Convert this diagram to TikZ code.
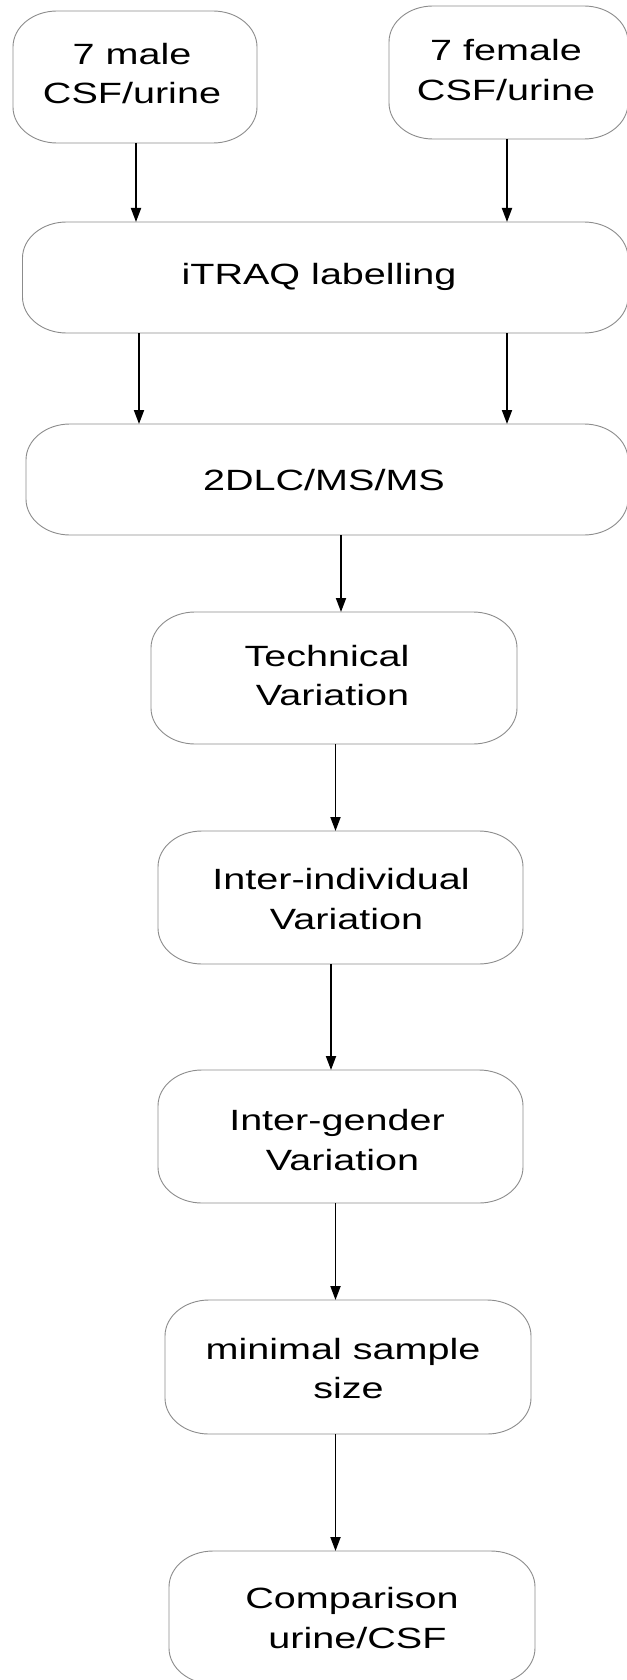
\documentclass[tikz,border=0pt]{standalone}
\usepackage{fontspec}
\setmainfont[FakeStretch=1.35]{Liberation Sans}
\usetikzlibrary{arrows.meta}
\newcommand{\ovalbox}[5]{%
  \node[boxshape, minimum width=#4pt, minimum height=#5pt] (#1) at (#2,#3) {};
  \draw[boxline] ([xshift=44pt]#1.north west) -- ([xshift=-44pt]#1.north east)
    .. controls ([xshift=-19.7pt]#1.north east) and ([yshift=-16.1pt]#1.north east) .. ([yshift=-36pt]#1.north east)
    -- ([yshift=36pt]#1.south east)
    .. controls ([yshift=16.1pt]#1.south east) and ([xshift=-19.7pt]#1.south east) .. ([xshift=-44pt]#1.south east)
    -- ([xshift=44pt]#1.south west)
    .. controls ([xshift=19.7pt]#1.south west) and ([yshift=16.1pt]#1.south west) .. ([yshift=36pt]#1.south west)
    -- ([yshift=-36pt]#1.north west)
    .. controls ([yshift=-16.1pt]#1.north west) and ([xshift=19.7pt]#1.north west) .. cycle;}
\begin{document}
\begin{tikzpicture}[x=1pt,y=-1pt,
  boxshape/.style={inner sep=0pt, outer sep=0pt},
  boxline/.style={draw=black!45, line width=0.9pt},
  lbl/.style={align=center, font=\fontsize{29.3}{39.5}\selectfont, inner sep=0pt},
  arr/.style={draw=black, line width=1.9pt, -{Triangle[length=14pt,width=10pt]}}]
\useasboundingbox[fill=white] (0,0) rectangle (626,1680);
% boxes
\ovalbox{male}{135}{77}{244}{132}
\ovalbox{female}{508.5}{72.5}{239}{133}
\ovalbox{itraq}{325.25}{277.5}{605.5}{111}
\ovalbox{dlc}{327}{479.5}{602}{111}
\ovalbox{tech}{334}{678}{366}{132}
\ovalbox{interind}{340.5}{897.5}{365}{133}
\ovalbox{intergen}{340.5}{1136.5}{365}{133}
\ovalbox{minimal}{348}{1367}{366}{134}
\ovalbox{compar}{352}{1617.5}{366}{133}
% labels
\node[lbl] (malet) at (132,73.5) {7 male\\CSF/urine};
\node[lbl] (femalet) at (506,70) {7 female\\CSF/urine};
\node[lbl] (itraqt) at (319,277) {iTRAQ labelling};
\node[lbl] (dlct) at (324,480) {2DLC/MS/MS};
\node[lbl] (techt) at (327,675.5) {Technical\\\hspace*{11pt}Variation};
\node[lbl] (interindt) at (341,899) {Inter-individual\\\hspace*{11pt}Variation};
\node[lbl] (intergent) at (337,1140) {Inter-gender\\\hspace*{11pt}Variation};
\node[lbl] (minimalt) at (343,1368.5) {minimal sample\\\hspace*{11pt}size};
\node[lbl] (compart) at (352,1618) {Comparison\\\hspace*{11pt}urine/CSF};
% arrows
\draw[arr] (136,0 |- male.south) -- (136,0 |- itraq.north);
\draw[arr] (507,0 |- female.south) -- (507,0 |- itraq.north);
\draw[arr] (139,0 |- itraq.south) -- (139,0 |- dlc.north);
\draw[arr] (507,0 |- itraq.south) -- (507,0 |- dlc.north);
\draw[arr] (341,0 |- dlc.south) -- (341,0 |- tech.north);
\draw[arr] (335.5,0 |- tech.south) -- (335.5,0 |- interind.north);
\draw[arr] (331,0 |- interind.south) -- (331,0 |- intergen.north);
\draw[arr] (335.5,0 |- intergen.south) -- (335.5,0 |- minimal.north);
\draw[arr] (335.5,0 |- minimal.south) -- (335.5,0 |- compar.north);
\end{tikzpicture}
\end{document}
